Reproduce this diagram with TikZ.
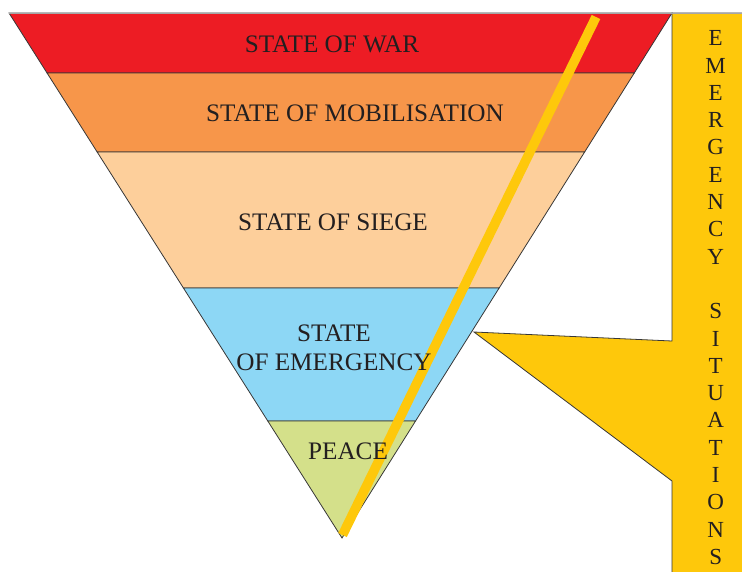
\documentclass[tikz,border=0pt]{standalone}
\usepackage{fontspec}
\setmainfont{Liberation Serif}
\usetikzlibrary{calc}
\definecolor{custom-red}{RGB}{237, 28, 36}
\definecolor{custom-orange}{RGB}{247, 150, 74}
\definecolor{custom-peach}{RGB}{253, 207, 155}
\definecolor{custom-blue}{RGB}{141, 215, 245}
\definecolor{custom-green}{RGB}{212, 224, 138}
\definecolor{custom-yellow}{RGB}{254, 200, 11}
\definecolor{custom-edge}{RGB}{55, 55, 55}
\definecolor{custom-text}{RGB}{35, 31, 32}

\begin{document}
\begin{tikzpicture}[x=1pt, y=-1pt,
    layer/.style={draw=custom-edge, line width=0.8pt},
    label/.style={inner sep=0pt, align=center, text=custom-text, font=\fontsize{25.2}{29}\selectfont}]
\useasboundingbox (0,0) rectangle (742,571);
\coordinate (tl) at (9,13);
\coordinate (tr) at (672,13);
\coordinate (apex) at (342,538);
\foreach \t/\n in {0.1143/a, 0.2648/b, 0.5238/c, 0.7771/d}{
    \coordinate (l\n) at ($(tl)!\t!(apex)$);
    \coordinate (r\n) at ($(tr)!\t!(apex)$);
}
% callout box
\coordinate (tip) at (474,332);
\filldraw[draw=custom-edge, fill=custom-yellow, line width=0.8pt] (tr) -- (760,13) -- (760,590) -- (672,590) -- (672,481) -- (tip) -- (672,341) -- cycle;
% pyramid
\filldraw[layer, fill=custom-red] (tl) -- (tr) -- (ra) -- (la) -- cycle;
\filldraw[layer, fill=custom-orange] (la) -- (ra) -- (rb) -- (lb) -- cycle;
\filldraw[layer, fill=custom-peach] (lb) -- (rb) -- (rc) -- (lc) -- cycle;
\filldraw[layer, fill=custom-blue] (lc) -- (rc) -- (rd) -- (ld) -- cycle;
\filldraw[layer, fill=custom-green] (ld) -- (rd) -- (apex) -- cycle;
\draw[gray!70, line width=0.8pt] (tl) -- (760,13);
% stripe
\coordinate (s1) at (342.5,535);
\coordinate (s2) at (596,17);
\draw[custom-yellow, line width=9.5pt] (s1) -- (s2);
\node[label] (war) at (332,44) {STATE OF WAR};
\node[label] (mob) at (355,113) {STATE OF MOBILISATION};
\node[label] (siege) at (333,222) {STATE OF SIEGE};
\node[label] (emerg) at (334,347.5) {STATE\\OF EMERGENCY};
\node[label] (peace) at (348,451) {PEACE};
\node[label, anchor=north, font=\fontsize{23}{27.3}\selectfont] (situations) at (715.7,30.5)
    {E\\M\\E\\R\\G\\E\\N\\C\\Y\\[27.3pt]S\\I\\T\\U\\A\\T\\I\\O\\N\\S};
\end{tikzpicture}
\end{document}
